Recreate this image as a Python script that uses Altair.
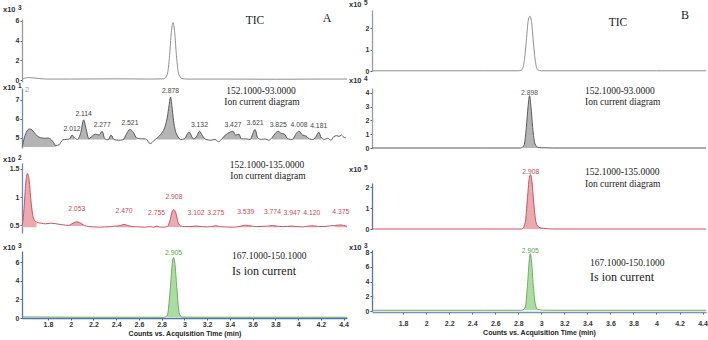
import altair as alt
import pandas as pd

# ---------------- Sample A ----------------
# TIC (x10^3 counts)
a1_t = [1.575, 1.60, 1.63, 1.67, 1.72, 1.80, 2.00, 2.40, 2.70, 2.82, 2.85, 2.87, 2.885, 2.90,
        2.915, 2.93, 2.95, 2.98, 3.02, 3.40, 3.80, 4.20, 4.43]
a1_v = [0.10, 0.20, 0.25, 0.22, 0.15, 0.10, 0.10, 0.12, 0.10, 0.12, 0.60, 2.50, 4.80, 5.85,
        4.80, 2.50, 0.60, 0.15, 0.10, 0.10, 0.08, 0.10, 0.10]

# 152.1000 -> 93.0000 (x10^1 counts)
a2_t = [1.575, 1.59, 1.61, 1.635, 1.66, 1.69, 1.72, 1.75, 1.78, 1.80, 1.83, 1.85, 1.87, 1.90,
        1.93, 1.96, 1.99, 2.012, 2.035, 2.06, 2.09, 2.114, 2.135, 2.16, 2.19, 2.22, 2.25, 2.277,
        2.30, 2.33, 2.355, 2.38, 2.42, 2.46, 2.49, 2.521, 2.55, 2.58, 2.62, 2.66, 2.70, 2.73,
        2.76, 2.80, 2.83, 2.85, 2.865, 2.878, 2.89, 2.905, 2.92, 2.94, 2.97, 3.00, 3.04, 3.08,
        3.11, 3.132, 3.16, 3.19, 3.23, 3.27, 3.30, 3.33, 3.36, 3.40, 3.427, 3.45, 3.48, 3.50,
        3.54, 3.58, 3.60, 3.621, 3.645, 3.68, 3.71, 3.74, 3.77, 3.80, 3.825, 3.85, 3.88, 3.91,
        3.95, 3.98, 4.008, 4.04, 4.07, 4.10, 4.13, 4.16, 4.181, 4.205, 4.23, 4.26, 4.29, 4.31,
        4.34, 4.36, 4.38, 4.40, 4.42]
a2_v = [4.55, 4.95, 5.30, 5.47, 5.42, 5.20, 5.05, 5.00, 4.98, 5.00, 4.90, 4.75, 4.60, 4.65,
        4.90, 4.92, 4.95, 5.15, 5.00, 4.92, 5.30, 5.95, 5.50, 4.95, 5.10, 5.20, 5.15, 5.35,
        4.95, 4.90, 5.15, 4.92, 4.88, 4.90, 5.20, 5.45, 5.30, 5.00, 4.95, 4.95, 4.70, 4.85,
        5.00, 5.25, 5.60, 6.10, 6.70, 7.15, 6.70, 5.90, 5.40, 5.10, 4.92, 4.95, 5.30, 4.95,
        5.10, 5.35, 5.10, 4.92, 4.88, 4.92, 4.80, 4.95, 5.15, 5.30, 5.35, 5.15, 5.20, 4.95,
        4.95, 4.92, 5.20, 5.45, 5.00, 4.92, 4.95, 4.88, 5.00, 5.25, 5.35, 5.25, 5.20, 4.95,
        4.92, 5.20, 5.35, 5.15, 5.10, 4.95, 4.92, 5.10, 5.30, 5.00, 4.92, 4.98, 4.88, 5.05,
        5.12, 5.08, 5.15, 5.05, 5.00]
# integrated regions: (start, end, baseline)
a2_fill = [(1.575, 1.87, 4.52), (1.99, 2.035, 4.92), (2.06, 2.16, 4.92), (2.16, 2.30, 4.92),
           (2.33, 2.38, 4.90), (2.46, 2.58, 4.90), (2.76, 2.97, 4.92), (3.00, 3.08, 4.92),
           (3.08, 3.19, 4.92), (3.33, 3.50, 4.92), (3.58, 3.645, 4.92), (3.77, 3.91, 4.92),
           (3.95, 4.10, 4.92), (4.13, 4.205, 4.92)]
a2_peaks = [2.012, 2.114, 2.277, 2.521, 2.878, 3.132, 3.427, 3.621, 3.825, 4.008, 4.181]

# 152.1000 -> 135.0000 (x10^2 counts)
a3_t = [1.575, 1.59, 1.605, 1.62, 1.635, 1.65, 1.665, 1.68, 1.70, 1.74, 1.78, 1.82, 1.86, 1.90,
        1.94, 1.98, 2.02, 2.053, 2.08, 2.12, 2.16, 2.20, 2.25, 2.30, 2.35, 2.40, 2.44, 2.47,
        2.50, 2.55, 2.60, 2.65, 2.70, 2.73, 2.755, 2.78, 2.82, 2.85, 2.875, 2.895, 2.908, 2.925,
        2.945, 2.97, 3.00, 3.05, 3.102, 3.15, 3.20, 3.24, 3.275, 3.31, 3.36, 3.42, 3.48, 3.539,
        3.59, 3.64, 3.69, 3.74, 3.774, 3.82, 3.87, 3.91, 3.947, 3.99, 4.04, 4.08, 4.12, 4.17,
        4.22, 4.27, 4.32, 4.375, 4.40, 4.43]
a3_v = [0.50, 0.80, 1.25, 1.42, 1.30, 0.95, 0.70, 0.60, 0.56, 0.54, 0.53, 0.54, 0.535, 0.52,
        0.51, 0.50, 0.54, 0.565, 0.55, 0.50, 0.48, 0.475, 0.47, 0.475, 0.48, 0.49, 0.50, 0.52,
        0.50, 0.48, 0.475, 0.47, 0.48, 0.47, 0.49, 0.475, 0.47, 0.48, 0.60, 0.76, 0.78, 0.72,
        0.55, 0.49, 0.48, 0.48, 0.49, 0.48, 0.475, 0.48, 0.495, 0.48, 0.475, 0.47, 0.48, 0.505,
        0.49, 0.48, 0.485, 0.49, 0.50, 0.485, 0.48, 0.485, 0.49, 0.48, 0.475, 0.485, 0.495, 0.485,
        0.48, 0.49, 0.50, 0.51, 0.50, 0.485]
a3_fill = [(1.575, 1.70, 0.47), (1.98, 2.12, 0.49), (2.40, 2.55, 0.47), (2.73, 2.78, 0.465),
           (2.85, 2.97, 0.475), (3.05, 3.15, 0.47), (3.24, 3.31, 0.47), (3.48, 3.59, 0.47),
           (3.74, 3.82, 0.47), (3.91, 3.99, 0.47), (4.08, 4.17, 0.47), (4.32, 4.43, 0.47)]
a3_peaks = [2.053, 2.470, 2.755, 2.908, 3.102, 3.275, 3.539, 3.774, 3.947, 4.120, 4.375]

# 167.1000 -> 150.1000, internal standard (x10^3 counts)
a4_t = [1.575, 1.80, 2.20, 2.60, 2.82, 2.85, 2.875, 2.895, 2.905, 2.915, 2.935, 2.955, 2.98,
        3.20, 3.60, 4.00, 4.43]
a4_v = [0.12, 0.10, 0.08, 0.08, 0.08, 0.30, 3.00, 6.00, 6.50, 6.00, 3.00, 0.50, 0.10,
        0.08, 0.08, 0.08, 0.08]
a4_fill = [(2.82, 2.98, 0.08)]
a4_peaks = [2.905]

# ---------------- Sample B ----------------
b1_t = [1.53, 2.00, 2.50, 2.80, 2.83, 2.85, 2.87, 2.885, 2.90, 2.915, 2.93, 2.95, 2.97, 3.00,
        3.50, 4.00, 4.43]
b1_v = [0.01, 0.01, 0.01, 0.01, 0.05, 0.40, 1.40, 2.30, 2.55, 2.30, 1.40, 0.40, 0.05, 0.01,
        0.01, 0.01, 0.01]

b2_t = [1.53, 2.50, 2.82, 2.85, 2.87, 2.885, 2.898, 2.91, 2.925, 2.945, 2.97, 3.00, 3.10, 4.43]
b2_v = [0.0, 0.0, 0.0, 0.2, 1.5, 3.0, 3.8, 3.0, 1.5, 0.3, 0.05, 0.02, 0.0, 0.0]
b2_fill = [(2.82, 3.00, 0.0)]
b2_peaks = [2.898]

b3_t = [1.53, 2.50, 2.83, 2.86, 2.88, 2.895, 2.908, 2.92, 2.935, 2.955, 2.98, 3.02, 3.10, 4.43]
b3_v = [0.0, 0.0, 0.0, 0.3, 1.5, 2.4, 2.6, 2.2, 1.2, 0.3, 0.08, 0.03, 0.0, 0.0]
b3_fill = [(2.83, 3.02, 0.0)]
b3_peaks = [2.908]

b4_t = [1.53, 2.50, 2.83, 2.86, 2.88, 2.895, 2.905, 2.915, 2.93, 2.95, 2.97, 3.05, 4.43]
b4_v = [0.1, 0.1, 0.1, 0.5, 3.5, 6.8, 7.8, 6.8, 3.5, 0.8, 0.2, 0.1, 0.1]
b4_fill = [(2.83, 2.97, 0.1)]
b4_peaks = [2.905]

x_ticks = [1.8, 2.0, 2.2, 2.4, 2.6, 2.8, 3.0, 3.2, 3.4, 3.6, 3.8, 4.0, 4.2, 4.4]

SANS = "Liberation Sans"
SERIF = "Liberation Serif"
GRAY_LINE = "#8f8f8f"
DARK_LINE = "#5a5a5a"
GRAY_FILL = "#b4b4b4"
RED_LINE = "#c85460"
RED_FILL = "#eba9b0"
RED_TEXT = "#c44a56"
GREEN_LINE = "#6aae5e"
GREEN_FILL = "#addca3"
GREEN_TEXT = "#58a24c"
AXIS_BLUE = "#4f72b8"
AXIS_STEEL = "#7487b8"
AXIS_GRAY = "#9a9a9a"


def xscale(col):
    if col == "A":
        return alt.Scale(domain=[1.572, 4.43], range=[22, 347], nice=False, zero=False)
    return alt.Scale(domain=[1.53, 4.43], range=[372, 706], nice=False, zero=False)


def yaxis(col, ticks, color):
    return alt.Axis(orient="left", offset=-22 if col == "A" else -372, values=ticks,
                    format="~g", grid=False, title=None, domainColor=color,
                    domainWidth=1.3, tickColor="#555", tickSize=2, labelPadding=1,
                    labelFont=SANS, labelFontSize=7, labelFontWeight="bold",
                    labelColor="#333")


def xaxis(col):
    return alt.Axis(orient="bottom", offset=0 if col == "A" else -6, values=x_ticks,
                    format="~g", grid=False, title="Counts vs. Acquisition Time (min)",
                    domainColor=AXIS_BLUE if col == "A" else "#7d8fb8", domainWidth=1.3,
                    tickColor="#555", tickSize=2, labelPadding=0 if col == "A" else 5,
                    labelFont=SANS, labelFontSize=7, labelFontWeight="bold", labelColor="#333",
                    titleFont=SANS, titleFontSize=7, titleFontWeight="bold",
                    titleColor="#222", titlePadding=2,
                    labelFlush=False, labelOverlap=False)


def panel(col, t, v, dom, rng, yticks, line_color, axis_color,
          fill=None, fill_color=None, peaks=None, peak_color=None, peak_dy=-6, bottom=False):
    ys = dict(domain=dom, range=rng, nice=False, zero=False)
    df = pd.DataFrame({"t": t, "v": v})
    layers = []
    if fill:
        rows = []
        for k, (lo, hi, base) in enumerate(fill):
            for ti, vi in zip(t, v):
                if lo <= ti <= hi:
                    rows.append({"t": ti, "v": vi, "b": base, "g": k})
        layers.append(
            alt.Chart(pd.DataFrame(rows)).mark_area(color=fill_color, interpolate="monotone")
            .encode(x=alt.X("t:Q", scale=xscale(col), axis=None),
                    y=alt.Y("v:Q", scale=alt.Scale(**ys), axis=None),
                    y2="b:Q", detail="g:N")
        )
    layers.append(
        alt.Chart(df).mark_line(color=line_color, strokeWidth=1, interpolate="monotone")
        .encode(x=alt.X("t:Q", scale=xscale(col), axis=xaxis(col) if bottom else None),
                y=alt.Y("v:Q", scale=alt.Scale(**ys), axis=yaxis(col, yticks, axis_color)))
    )
    if peaks:
        lookup = dict(zip(t, v))
        pdf = pd.DataFrame({"t": peaks, "v": [lookup[p] for p in peaks],
                            "s": [f"{p:.3f}" for p in peaks]})
        layers.append(
            alt.Chart(pdf).mark_text(color=peak_color, font=SANS, fontSize=6.8, dy=peak_dy)
            .encode(x=alt.X("t:Q", scale=xscale(col), axis=None),
                    y=alt.Y("v:Q", scale=alt.Scale(**ys), axis=None),
                    text="s:N")
        )
    return layers


def note(text, x, y, size=9.5, font=SERIF, align="center", color="#222", weight="normal"):
    return alt.Chart(alt.Data(values=[{}])).mark_text(
        text=text, font=font, fontSize=size, align=align, baseline="middle",
        color=color, fontWeight=weight
    ).encode(x=alt.value(x), y=alt.value(y))


def exponent(x, y, power):
    return [note("x10", x, y, size=7.5, font=SANS, align="left", color="#333", weight="bold"),
            note(power, x + 15, y - 2, size=6.5, font=SANS, align="left", color="#333",
                 weight="bold")]


layers = []
# column A
layers += panel("A", a1_t, a1_v, [-0.2, 6.2], [82, 19], [0, 2, 4, 6], GRAY_LINE, AXIS_GRAY)
layers += panel("A", a2_t, a2_v, [4.47, 7.63], [148, 88], [5, 6, 7], DARK_LINE, AXIS_STEEL,
                a2_fill, GRAY_FILL, a2_peaks, "#444", -6)
layers += panel("A", a3_t, a3_v, [0.367, 1.606], [233, 163], [0.5, 1, 1.5], RED_LINE, AXIS_STEEL,
                a3_fill, RED_FILL, a3_peaks, RED_TEXT, -13)
layers += panel("A", a4_t, a4_v, [0, 7.18], [318, 251], [0, 2, 4, 6], GREEN_LINE, AXIS_BLUE,
                a4_fill, GREEN_FILL, a4_peaks, GREEN_TEXT, -4, bottom=True)
# column B
layers += panel("B", b1_t, b1_v, [0, 2.84], [71, 10], [0, 1, 2], GRAY_LINE, AXIS_GRAY)
layers += panel("B", b2_t, b2_v, [0, 4.36], [148, 88], [0, 1, 2, 3, 4], DARK_LINE, AXIS_GRAY,
                b2_fill, GRAY_FILL, b2_peaks, "#555", -3)
layers += panel("B", b3_t, b3_v, [0, 2.2], [229, 183], [0, 1, 2], RED_LINE, AXIS_BLUE,
                b3_fill, RED_FILL, b3_peaks, RED_TEXT, -3)
layers += panel("B", b4_t, b4_v, [0, 8.3], [311, 250], [0, 2, 4, 6, 8], GREEN_LINE, AXIS_BLUE,
                b4_fill, GREEN_FILL, b4_peaks, GREEN_TEXT, -3, bottom=True)

# panel captions
layers += [
    note("TIC", 255, 21, size=11.5), note("A", 327, 18, size=12),
    note("152.1000-93.0000", 261, 91), note("Ion current diagram", 262, 101.5),
    note("152.1000-135.0000", 267, 165), note("Ion current diagram", 268, 176),
    note("167.1000-150.1000", 232, 256, align="left"),
    note("Is ion current", 232, 271, size=12, align="left"),
    note("2", 25, 90, size=7.5, font=SANS, align="left", color="#999"),
    note("TIC", 618, 23, size=11.5), note("B", 685, 15, size=12),
    note("152.1000-93.0000", 585, 91, align="left"),
    note("Ion current diagram", 585, 101.5, align="left"),
    note("152.1000-135.0000", 585, 172, align="left"),
    note("Ion current diagram", 585, 184, align="left"),
    note("167.1000-150.1000", 590, 263, align="left"),
    note("Is ion current", 590, 277, size=12, align="left"),
]
# scale multipliers
for x, y, p in [(3, 10, "3"), (3, 88, "1"), (3, 160, "2"), (3, 248, "3"),
                (349, 5, "5"), (349, 81, "4"), (349, 170, "5"), (349, 248, "3")]:
    layers += exponent(x, y, p)

chart = (
    alt.layer(*layers)
    .resolve_scale(x="independent", y="independent")
    .resolve_axis(x="independent", y="independent")
    .properties(width=708, height=318, autosize=alt.AutoSizeParams(type="none"),
                padding={"left": 0, "top": 0, "right": 0, "bottom": 22},
                background="white")
    .configure_view(stroke=None)
)

chart.save("out.html", embed_options={"renderer": "svg", "actions": False})
